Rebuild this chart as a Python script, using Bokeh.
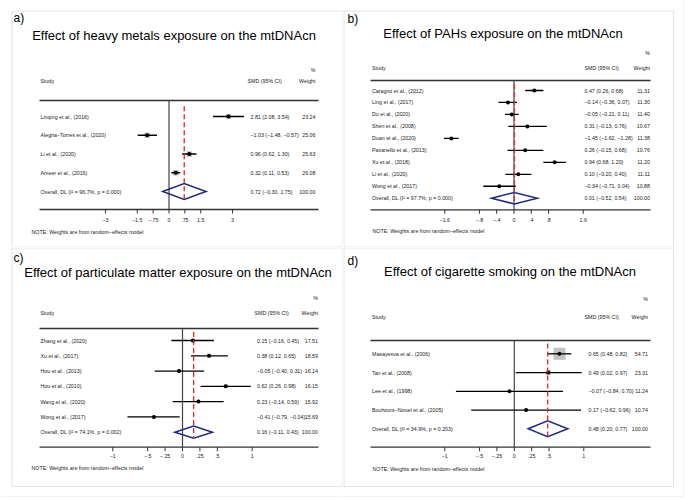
import math
from bokeh.plotting import figure
from bokeh.models import Range1d
from bokeh.layouts import gridplot
from bokeh.core.properties import value
from bokeh.embed import file_html
from bokeh.resources import INLINE

# ---------------- data ----------------
a_title = "Effect of heavy metals exposure on the mtDNAcn"
a_studies = ["Linqing et al., (2016)", "Alegria−Torres et al., (2020)", "Li et al., (2020)", "Ameer et al., (2016)"]
a_smd = [2.81, -1.03, 0.96, 0.32]
a_lo = [2.08, -1.48, 0.62, 0.11]
a_hi = [3.54, -0.57, 1.30, 0.53]
a_wt = [23.24, 25.06, 25.63, 26.08]
a_overall = [0.72, -0.30, 1.75]
a_i2 = 96.7
a_p = "0.000"
a_ticks = [-3, -1.5, -0.75, 0, 0.75, 1.5, 3]
a_tick_labels = ["−3", "−1.5", "−.75", "0", ".75", "1.5", "3"]

b_title = "Effect of PAHs exposure on the mtDNAcn"
b_studies = ["Caragno et al., (2012)", "Ling et al., (2017)", "Du et al., (2020)", "Shen et al., (2008)",
             "Duan et al., (2020)", "Pavanello et al., (2013)", "Xu et al., (2018)", "Li et al., (2020)",
             "Wong et al., (2017)"]
b_smd = [0.47, -0.14, -0.05, 0.31, -1.45, 0.26, 0.94, 0.10, -0.34]
b_lo = [0.26, -0.36, -0.21, -0.13, -1.62, -0.15, 0.68, -0.20, -0.71]
b_hi = [0.68, 0.07, 0.11, 0.76, -1.28, 0.68, 1.20, 0.40, 0.04]
b_wt = [11.31, 11.30, 11.40, 10.67, 11.38, 10.76, 11.20, 11.11, 10.88]
b_overall = [0.01, -0.52, 0.54]
b_i2 = 97.7
b_p = "0.000"
b_ticks = [-1.6, -0.8, -0.4, 0, 0.4, 0.8, 1.6]
b_tick_labels = ["−1.6", "−.8", "−.4", "0", ".4", ".8", "1.6"]

c_title = "Effect of particulate matter exposure on the mtDNAcn"
c_studies = ["Zhang et al., (2020)", "Xu et al., (2017)", "Hou et al., (2013)", "Hou et al., (2010)",
             "Wang et al., (2020)", "Wong et al., (2017)"]
c_smd = [0.15, 0.38, -0.05, 0.62, 0.23, -0.41]
c_lo = [-0.16, 0.12, -0.40, 0.26, -0.14, -0.79]
c_hi = [0.45, 0.65, 0.31, 0.98, 0.59, -0.04]
c_wt = [17.51, 18.59, 16.14, 16.15, 15.92, 15.69]
c_overall = [0.16, -0.11, 0.43]
c_i2 = 74.1
c_p = "0.002"
c_ticks = [-1, -0.5, -0.25, 0, 0.25, 0.5, 1]
c_tick_labels = ["−1", "−.5", "−.25", "0", ".25", ".5", "1"]

d_title = "Effect of cigarette smoking on the mtDNAcn"
d_studies = ["Masayesva et al., (2006)", "Tan et al., (2008)", "Lee et al., (1998)", "Bouhours−Nouet et al., (2005)"]
d_smd = [0.65, 0.49, -0.07, 0.17]
d_lo = [0.48, 0.02, -0.84, -0.62]
d_hi = [0.82, 0.97, 0.70, 0.96]
d_wt = [54.71, 23.31, 11.24, 10.74]
d_overall = [0.48, 0.20, 0.77]
d_i2 = 34.9
d_p = "0.203"
d_ticks = [-1, -0.5, -0.25, 0, 0.25, 0.5, 1]
d_tick_labels = ["−1", "−.5", "−.25", "0", ".25", ".5", "1"]

NOTE = "NOTE: Weights are from random−effects model"

# ---------------- layout (pixels inside each panel) ----------------
LA = dict(W=343, H=247, border=(11.5, 342.5, 10.5, 246.5), outer=None, lab=(13, 17), title=(173.5, 35),
          pct_y=69, head_y=80, study_x=40, smdh_x=247, smd_x=250, wt_x=315, rule=(39, 318, 100), row0=116,
          dy=18.75, zero=168.5, ppu=21.17, axis_y=209, tick_y=219, note=(31, 231), dh=0.43)
LB = dict(W=341, H=247, border=(0.5, 330, 10.5, 246.5), outer=(340.5, None), lab=(4, 18), title=(159.5, 33),
          pct_y=52, head_y=67, study_x=28.5, smdh_x=241, smd_x=241, wt_x=306.5, rule=(27, 307, 80), row0=90,
          dy=11.97, zero=170.5, ppu=43.25, axis_y=209.3, tick_y=219.3, note=(29, 230), dh=0.48)
LC = dict(W=343, H=250, border=(11.5, 342.5, 0.5, 239), outer=(None, 249.5), lab=(13, 10), title=(177.5, 25),
          pct_y=50, head_y=65, study_x=40, smdh_x=254, smd_x=256.5, wt_x=317.5, rule=(39, 318, 81), row0=93,
          dy=15.28, zero=182, ppu=69.7, axis_y=199.7, tick_y=208.7, note=(31, 220.7), dh=0.4)
LD = dict(W=341, H=250, border=(0.5, 330, 0.5, 239), outer=(340.5, 249.5), lab=(4, 13), title=(166.5, 24),
          pct_y=51, head_y=69.7, study_x=28.5, smdh_x=241, smd_x=245, wt_x=304.5, rule=(27, 307, 93),
          row0=106.3, dy=18.75, zero=170.8, ppu=69.5, axis_y=199.7, tick_y=208.7, note=(29, 221.3), dh=0.42)

FONT = value("Liberation Sans")
SMALL = value("5.3px")
TXT = "#222222"
RED = "#e3302d"
NAVY = "#1f2a80"
AXIS = "#333333"
FRAME = "#e1e9ee"


def fmt(v):
    return f"{v:.2f}".replace("-", "−")


def make_panel(letter, title, studies, smd, lo, hi, wt, ov, i2, pval, ticks, tlabels, L):
    W, H = L["W"], L["H"]
    n = len(studies)
    p = figure(width=W, height=H, output_backend="svg", toolbar_location=None,
               x_range=Range1d((0 - L["zero"]) / L["ppu"], (W - L["zero"]) / L["ppu"]),
               y_range=Range1d((H - L["row0"]) / L["dy"], (0 - L["row0"]) / L["dy"]),
               x_axis_type=None, y_axis_type=None,
               min_border_left=0, min_border_right=0, min_border_top=0, min_border_bottom=0)
    p.extra_x_ranges = {"px": Range1d(0, W)}
    p.extra_y_ranges = {"px": Range1d(H, 0)}
    p.outline_line_color = None
    p.background_fill_color = "white"
    p.border_fill_color = "white"

    # panel border
    bx0, bx1, by0, by1 = L["border"]
    p.quad(left=[bx0], right=[bx1], top=[by0], bottom=[by1], x_range_name="px", y_range_name="px",
           fill_color=None, line_color=FRAME, line_width=1.2)
    # outer frame (right / bottom edges of the whole figure)
    if L["outer"] is not None:
        ox, oy = L["outer"]
        if ox is not None:
            p.segment(x0=[ox], x1=[ox], y0=[0], y1=[oy if oy is not None else H], x_range_name="px",
                      y_range_name="px", line_color=FRAME, line_width=1.2)
        if oy is not None:
            p.segment(x0=[0], x1=[ox if ox is not None else W], y0=[oy], y1=[oy], x_range_name="px",
                      y_range_name="px", line_color=FRAME, line_width=1.2)

    # panel letter & title
    p.text(x=[L["lab"][0]], y=[L["lab"][1]], text=[letter + ")"], x_range_name="px", y_range_name="px",
           text_font=FONT, text_font_size=value("12px"), text_color="black",
           text_align="left", text_baseline="middle")
    p.text(x=[L["title"][0]], y=[L["title"][1]], text=[title], x_range_name="px", y_range_name="px",
           text_font=FONT, text_font_size=value("13px"), text_color="black",
           text_align="center", text_baseline="middle")

    # headers
    p.text(x=[L["wt_x"]], y=[L["pct_y"]], text=["%"], x_range_name="px", y_range_name="px",
           text_font=FONT, text_font_size=SMALL, text_color=TXT, text_align="right", text_baseline="middle")
    p.text(x=[L["study_x"]], y=[L["head_y"]], text=["Study"], x_range_name="px", y_range_name="px",
           text_font=FONT, text_font_size=SMALL, text_color=TXT, text_align="left", text_baseline="middle")
    p.text(x=[L["smdh_x"]], y=[L["head_y"]], text=["SMD (95% CI)"], x_range_name="px", y_range_name="px",
           text_font=FONT, text_font_size=SMALL, text_color=TXT, text_align="left", text_baseline="middle")
    p.text(x=[L["wt_x"]], y=[L["head_y"]], text=["Weight"], x_range_name="px", y_range_name="px",
           text_font=FONT, text_font_size=SMALL, text_color=TXT, text_align="right", text_baseline="middle")

    # top rule & bottom axis line
    rx0, rx1, ry = L["rule"]
    ay = L["axis_y"]
    p.segment(x0=[rx0, rx0], x1=[rx1, rx1], y0=[ry, ay], y1=[ry, ay], x_range_name="px", y_range_name="px",
              line_color=AXIS, line_width=1.3)

    # zero line
    p.segment(x0=[0], x1=[0], y0=[ry], y1=[ay], y_range_name="px", line_color="#444444", line_width=1.2)

    # ticks and tick labels
    k = len(ticks)
    p.segment(x0=ticks, x1=ticks, y0=[ay] * k, y1=[ay + 4] * k, y_range_name="px",
              line_color=AXIS, line_width=1)
    p.text(x=ticks, y=[L["tick_y"]] * k, text=tlabels, y_range_name="px",
           text_font=FONT, text_font_size=SMALL, text_color=TXT, text_align="center", text_baseline="middle")

    rows = list(range(n))
    # weight boxes (side proportional to weight)
    sizes = [0.22 * w for w in wt]
    p.scatter(x=smd, y=rows, marker="square", size=sizes, fill_color="#c2c2c2", line_color=None)
    # confidence intervals
    p.segment(x0=lo, x1=hi, y0=rows, y1=rows, line_color="black", line_width=1.3)
    # point estimates
    p.scatter(x=smd, y=rows, marker="circle", size=4, fill_color="black", line_color=None)

    # overall diamond
    est, olo, ohi = ov
    dh = L["dh"]
    p.patch(x=[olo, est, ohi, est, olo], y=[n, n - dh, n, n + dh, n], fill_color=None,
            line_color=NAVY, line_width=1.5, line_join="miter")

    # overall estimate dashed line
    p.segment(x0=[est], x1=[est], y0=[-0.55], y1=[n + dh], line_color=RED, line_width=1.4, line_dash="5 3")

    # row texts
    labels = studies + [f"Overall, DL (I² = {i2:.1f}%, p = {pval})"]
    smd_txt = [f"{fmt(s)} ({fmt(a)}, {fmt(b)})" for s, a, b in zip(smd, lo, hi)] + \
              [f"{fmt(est)} ({fmt(olo)}, {fmt(ohi)})"]
    wt_txt = [f"{w:.2f}" for w in wt] + ["100.00"]
    allrows = rows + [n]
    p.text(x=[L["study_x"]] * (n + 1), y=allrows, text=labels, x_range_name="px",
           text_font=FONT, text_font_size=SMALL, text_color=TXT, text_align="left", text_baseline="middle")
    p.text(x=[L["smd_x"]] * (n + 1), y=allrows, text=smd_txt, x_range_name="px",
           text_font=FONT, text_font_size=SMALL, text_color=TXT, text_align="left", text_baseline="middle")
    p.text(x=[L["wt_x"]] * (n + 1), y=allrows, text=wt_txt, x_range_name="px",
           text_font=FONT, text_font_size=SMALL, text_color=TXT, text_align="right", text_baseline="middle")

    # note
    p.text(x=[L["note"][0]], y=[L["note"][1]], text=[NOTE], x_range_name="px", y_range_name="px",
           text_font=FONT, text_font_size=SMALL, text_color=TXT, text_align="left", text_baseline="middle")
    return p


pa = make_panel("a", a_title, a_studies, a_smd, a_lo, a_hi, a_wt, a_overall, a_i2, a_p, a_ticks, a_tick_labels, LA)
pb = make_panel("b", b_title, b_studies, b_smd, b_lo, b_hi, b_wt, b_overall, b_i2, b_p, b_ticks, b_tick_labels, LB)
pc = make_panel("c", c_title, c_studies, c_smd, c_lo, c_hi, c_wt, c_overall, c_i2, c_p, c_ticks, c_tick_labels, LC)
pd_ = make_panel("d", d_title, d_studies, d_smd, d_lo, d_hi, d_wt, d_overall, d_i2, d_p, d_ticks, d_tick_labels, LD)

grid = gridplot([[pa, pb], [pc, pd_]], toolbar_location=None)

open("out.html", "w").write(file_html(grid, INLINE))
